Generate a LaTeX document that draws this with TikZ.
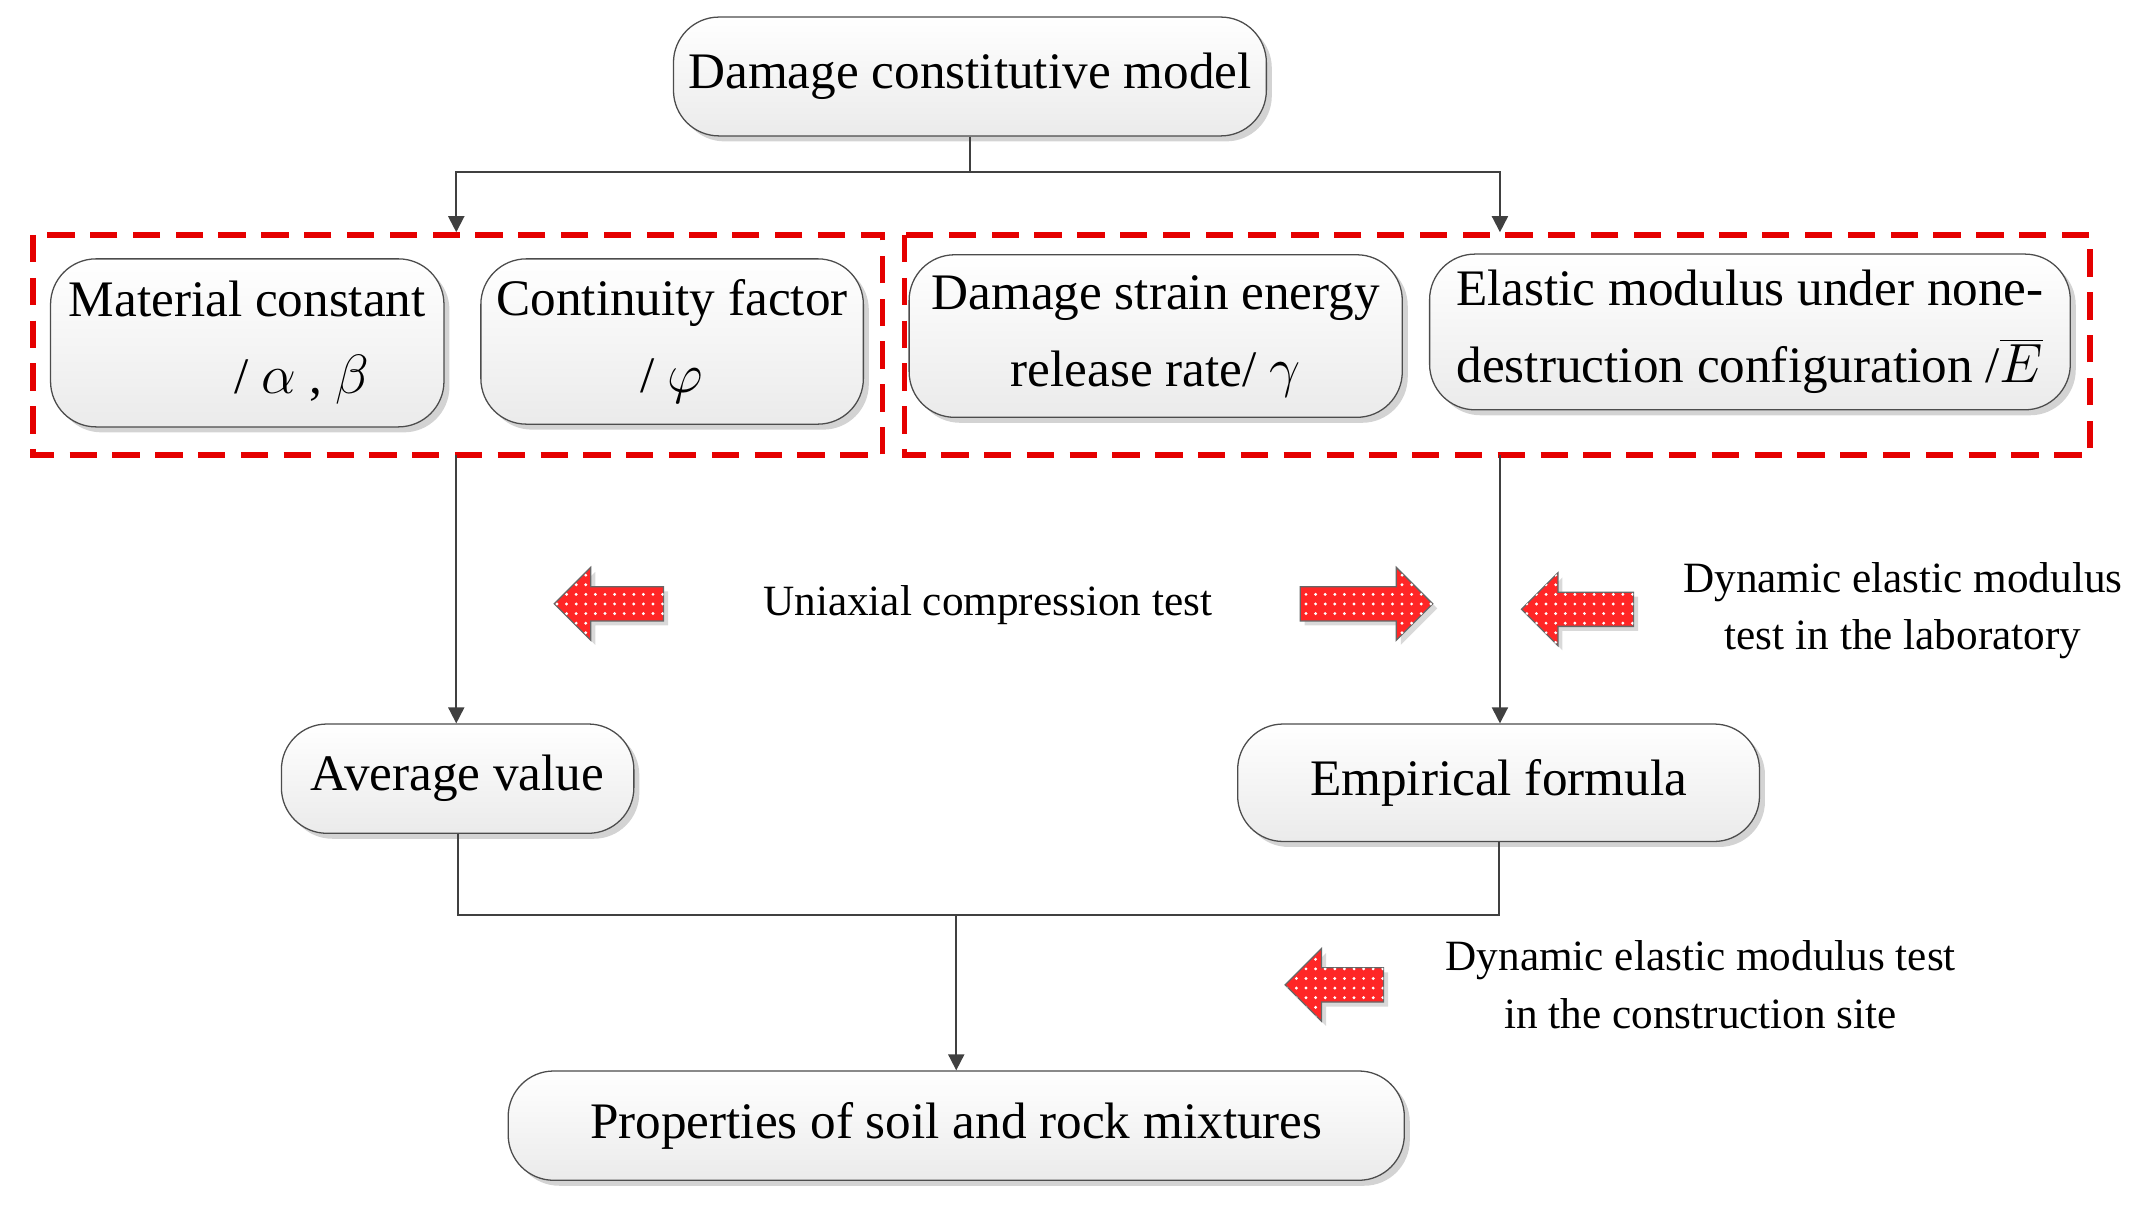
\documentclass[tikz,border=0pt]{standalone}
\usepackage{fontspec}
\setmainfont{Liberation Serif}
\usetikzlibrary{shapes.arrows,shadows,patterns,arrows.meta}
\begin{document}
\begin{tikzpicture}[x=0.015cm,y=-0.015cm,
 box/.style={draw=black!70,rounded corners=0.5cm,top color=white,bottom color=black!8,
   drop shadow={shadow xshift=0.06cm,shadow yshift=-0.06cm,opacity=0.35},
   font=\fontsize{16}{24}\selectfont,align=center,inner sep=0pt},
 redbox/.style={draw=red!90!black,line width=1.7pt,dash pattern=on 0.3cm off 0.17cm},
 con/.style={draw=black!75,line width=0.6pt},
 arr/.style={con,-{Triangle[length=5pt,width=5pt]}},
 red arrow/.style={single arrow,draw=black!60,fill=red!85,
   postaction={pattern=dots,pattern color=white},
   drop shadow={shadow xshift=0.05cm,shadow yshift=-0.05cm,opacity=0.3},
   minimum height=#1,inner sep=0.17cm,minimum width=0.8cm,single arrow head extend=0.2cm},
 lab/.style={font=\fontsize{13.5}{18}\selectfont,align=center}]
\useasboundingbox (0,0) rectangle (1568,885);
\node[box,minimum width=434*0.015cm,minimum height=87*0.015cm] (top) at (710,56) {Damage constitutive model};
\node[box,minimum width=288*0.015cm,minimum height=123*0.015cm] (mat) at (181,251) {Material constant\\\hspace*{1.2cm}/ $\alpha$ , $\beta$};
\node[box,minimum width=280*0.015cm,minimum height=121*0.015cm] (con) at (492,250) {Continuity factor\\/ $\varphi$};
\node[box,minimum width=361*0.015cm,minimum height=119*0.015cm] (dam) at (846,246) {Damage strain energy\\release rate/ $\gamma$};
\node[box,minimum width=469*0.015cm,minimum height=114*0.015cm] (ela) at (1281,243) {Elastic modulus under none-\\destruction configuration /$\overline{E}$};
\node[box,minimum width=258*0.015cm,minimum height=80*0.015cm] (avg) at (335,570) {Average value};
\node[box,minimum width=382*0.015cm,minimum height=86*0.015cm] (emp) at (1097,573) {Empirical formula};
\node[box,minimum width=656*0.015cm,minimum height=80*0.015cm] (prop) at (700,824) {Properties of soil and rock mixtures};
\draw[redbox] (24,172) rectangle (646,333);
\draw[redbox] (662,172) rectangle (1530,333);
\coordinate (j1) at (710,126);
\coordinate (l1) at (334,126);
\coordinate (r1) at (1098,126);
\coordinate (l2) at (334,333);
\coordinate (r2) at (1098,333);
\draw[con] (top.south) -- (j1);
\draw[arr] (j1) -- (l1) -- (334,170);
\draw[arr] (j1) -- (r1) -- (1098,170);
\draw[arr] (l2) -- (avg.north -| l2);
\draw[arr] (r2) -- (emp.north -| r2);
\coordinate (j2) at (700,670);
\draw[con] (avg.south) -- (335,670) -- (j2);
\draw[con] (emp.south) -- (1097,670) -- (j2);
\draw[arr] (j2) -- (prop.north);
\node[red arrow=80*0.015cm,shape border rotate=180] (a1) at (452,442) {};
\node[red arrow=97*0.015cm] (a2) at (994,442) {};
\node[red arrow=82*0.015cm,shape border rotate=180] (a3) at (1161,446) {};
\node[red arrow=72*0.015cm,shape border rotate=180] (a4) at (983,721) {};
\node[lab] (t1) at (723,443) {Uniaxial compression test};
\node[lab] (t2) at (1393,447) {Dynamic elastic modulus\\test in the laboratory};
\node[lab] (t3) at (1245,721) {Dynamic elastic modulus test\\in the construction site};
\end{tikzpicture}
\end{document}
